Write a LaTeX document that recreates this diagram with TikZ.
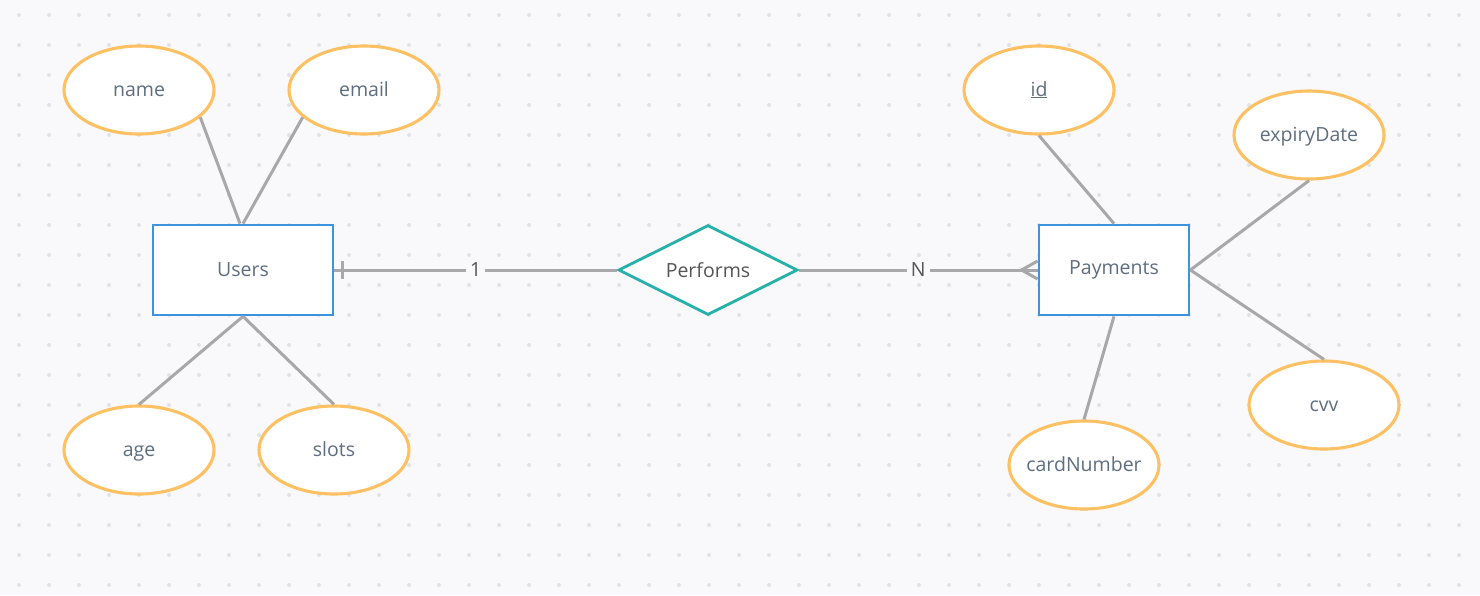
\documentclass[tikz,border=0pt]{standalone}
\usepackage{fontspec}
\setmainfont{Open Sans}
\usetikzlibrary{shapes.geometric,positioning,calc}
\definecolor{bgcol}{HTML}{F9F9FB}
\definecolor{dotcol}{HTML}{E2E2E6}
\definecolor{attrcol}{HTML}{FDC062}
\definecolor{entcol}{HTML}{3D93DD}
\definecolor{relcol}{HTML}{25B0A9}
\definecolor{linecol}{HTML}{A8A8AA}
\definecolor{txtcol}{HTML}{5E6E80}
\definecolor{reltxt}{HTML}{555555}

\begin{document}
\begin{tikzpicture}[
    x=1pt, y=-1pt,
    every node/.style={font=\fontsize{19.5}{22}\selectfont, text=txtcol},
    attr/.style={ellipse, draw=attrcol, line width=3.1pt, fill=white,
        minimum width=150pt, minimum height=88pt, inner xsep=-20pt, inner ysep=0pt,
        text height=15pt, text depth=3pt},
    entity/.style={rectangle, draw=entcol, line width=2.8pt, fill=white,
        minimum width=180pt, minimum height=90pt},
    rel/.style={diamond, draw=relcol, line width=2.8pt, fill=white, text=reltxt,
        minimum width=179pt, minimum height=90pt, aspect=2, inner sep=0pt},
    conn/.style={draw=linecol, line width=3pt},
    card/.style={fill=bgcol, inner sep=4pt, text=reltxt}
]

% Background and dot grid
\fill[bgcol] (0,0) rectangle (1480,595);
\useasboundingbox (0,0) rectangle (1480,595);
\foreach \i in {0,...,48} {
    \foreach \j in {0,...,19} {
        \fill[dotcol] ({19+30*\i}, {15+30*\j}) circle (2pt);
    }
}

% Users entity and its attributes
\node[entity] (users) at (243, 270) {Users};
\node[attr] (name) at (139, 90) {name};
\node[attr] (email) at (364, 90) {email};
\node[attr] (age) at (139, 450) {age};
\node[attr] (slots) at (334, 450) {slots};

% Relationship
\node[rel] (performs) at (708, 270) {Performs};

% Payments entity and its attributes
\node[entity, minimum width=150pt] (payments) at (1114, 270) {Payments};
\node[attr] (id) at (1039, 90) {\underline{id}};
\node[attr] (expiry) at (1309, 135) {expiryDate};
\node[attr] (cvv) at (1324, 405) {cvv};
\node[attr] (cardno) at (1084, 465) {cardNumber};

% Attribute links
\draw[conn] (name.-24) -- ([xshift=-3pt]users.north);
\draw[conn] (email.204) -- (users.north);
\draw[conn] (age.north) -- (users.south);
\draw[conn] (slots.north) -- (users.south);
\draw[conn] (id.south) -- (payments.north);
\draw[conn] (expiry.south) -- (payments.east);
\draw[conn] (cvv.north) -- (payments.east);
\draw[conn] (cardno.north) -- (payments.south);

% Relationship links with cardinality
\draw[conn] (users.east) -- (performs.west) node[card, midway] {1};
\draw[conn] ([xshift=8pt]users.east) ++(0,-9) -- ++(0,18);
\draw[conn] (performs.east) -- (payments.west) node[card, midway] {N};
\draw[conn] (payments.west) ++(0,-9) -- ++(-16,9) -- ++(16,9);

\end{tikzpicture}
\end{document}
